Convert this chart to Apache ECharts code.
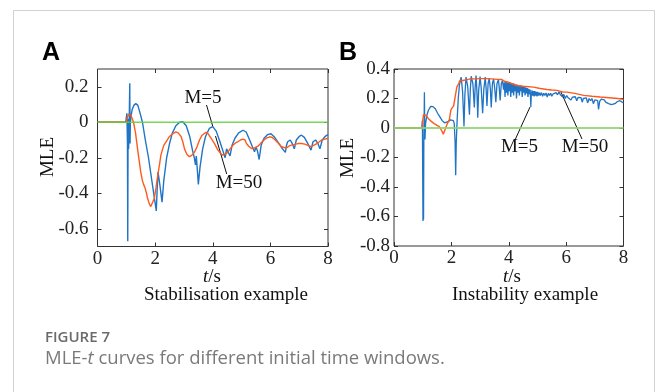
<!DOCTYPE html>
<html><head><meta charset="utf-8">
<script src="https://cdn.jsdelivr.net/npm/echarts@6/dist/echarts.min.js"></script>
<style>html,body{margin:0;padding:0;background:#fff}#c{width:656px;height:392px}</style>
</head><body><div id="c"></div>
<script>
// ---- Panel A (Stabilisation example) ----
const tA_M5 = [0,0.98,1.02,1.04,1.05,1.06,1.07,1.08,1.1,1.12,1.13,1.14,1.16,1.2,1.26,1.33,1.4,1.48,1.56,1.66,1.77,1.86,1.95,2.04,2.07,2.1,2.17,2.24,2.3,2.4,2.5,2.6,2.72,2.85,2.96,3.08,3.2,3.3,3.36,3.4,3.43,3.47,3.5,3.56,3.65,3.75,3.88,4.0,4.12,4.25,4.35,4.43,4.48,4.53,4.6,4.67,4.77,4.9,5.05,5.16,5.28,5.38,5.45,5.5,5.55,5.61,5.68,5.78,5.9,6.02,6.15,6.3,6.42,6.52,6.56,6.6,6.69,6.76,6.83,6.9,7.0,7.08,7.18,7.3,7.41,7.48,7.57,7.65,7.72,7.8,7.9,8.0];
const vA_M5 = [0,0,0.05,-0.12,-0.67,-0.1,0.02,-0.15,0.0,0.22,-0.12,0.0,0.03,0.07,0.095,0.105,0.095,0.05,0.0,-0.1,-0.2,-0.3,-0.4,-0.5,-0.38,-0.28,-0.36,-0.45,-0.33,-0.2,-0.12,-0.06,-0.02,0.0,0.003,-0.02,-0.08,-0.16,-0.2,-0.24,-0.19,-0.28,-0.35,-0.25,-0.15,-0.08,-0.035,-0.025,-0.05,-0.11,-0.16,-0.2,-0.15,-0.16,-0.19,-0.13,-0.09,-0.06,-0.045,-0.055,-0.1,-0.14,-0.166,-0.14,-0.16,-0.21,-0.13,-0.09,-0.07,-0.065,-0.085,-0.12,-0.15,-0.17,-0.13,-0.11,-0.1,-0.12,-0.15,-0.1,-0.08,-0.073,-0.085,-0.12,-0.157,-0.11,-0.1,-0.12,-0.15,-0.1,-0.08,-0.07];
const tA_M50 = [0,1.0,1.04,1.08,1.11,1.16,1.25,1.32,1.39,1.45,1.5,1.56,1.6,1.65,1.7,1.74,1.8,1.85,1.9,1.97,2.03,2.09,2.15,2.2,2.3,2.38,2.5,2.61,2.72,2.8,2.9,2.96,3.02,3.1,3.19,3.28,3.36,3.45,3.54,3.62,3.71,3.8,3.94,4.06,4.18,4.27,4.35,4.43,4.52,4.6,4.7,4.8,4.87,4.96,5.05,5.12,5.17,5.25,5.34,5.45,5.57,5.66,5.74,5.86,5.98,6.06,6.15,6.26,6.38,6.47,6.56,6.64,6.73,6.85,6.96,7.08,7.2,7.3,7.41,7.5,7.61,7.7,7.78,7.9,8.0];
const vA_M50 = [0,0,0.03,0.045,0.052,0.04,0.0,-0.06,-0.15,-0.22,-0.28,-0.33,-0.35,-0.37,-0.4,-0.43,-0.46,-0.475,-0.47,-0.43,-0.37,-0.3,-0.24,-0.185,-0.13,-0.11,-0.08,-0.065,-0.054,-0.06,-0.08,-0.11,-0.15,-0.18,-0.194,-0.185,-0.17,-0.14,-0.1,-0.075,-0.063,-0.055,-0.09,-0.12,-0.157,-0.175,-0.185,-0.18,-0.17,-0.15,-0.13,-0.115,-0.11,-0.1,-0.095,-0.1,-0.12,-0.135,-0.148,-0.145,-0.135,-0.12,-0.106,-0.09,-0.082,-0.085,-0.097,-0.115,-0.138,-0.142,-0.144,-0.135,-0.129,-0.125,-0.12,-0.12,-0.123,-0.13,-0.138,-0.13,-0.12,-0.11,-0.1,-0.095,-0.09];

// ---- Panel B (Instability example) ----
const tB_M5 = [0,0.97,0.99,1.0,1.01,1.02,1.03,1.04,1.05,1.06,1.07,1.08,1.1,1.15,1.2,1.28,1.36,1.44,1.52,1.6,1.68,1.76,1.82,1.9,1.97,2.02,2.07,2.1,2.13,2.15,2.17,2.2,2.24,2.28,2.34,2.39,2.44,2.47,2.51,2.57,2.63,2.66,2.69,2.75,2.8,2.83,2.86,2.89,2.92,2.95,3.0,3.04,3.09,3.13,3.18,3.21,3.24,3.28,3.32,3.36,3.39,3.43,3.47,3.51,3.55,3.59,3.64,3.67,3.7,3.74,3.78,
  3.82,3.845,3.87,3.895,3.92,3.945,3.97,3.995,4.02,4.045,4.07,4.095,4.12,4.145,4.17,4.195,4.22,4.245,4.27,4.295,4.32,4.345,4.37,4.395,4.42,4.445,4.47,4.495,4.52,4.545,4.57,4.595,4.62,4.645,4.67,4.695,4.72,4.745,4.76,4.77,4.785,4.81,4.835,4.86,4.885,4.91,4.935,4.96,4.985,5.01,5.04,5.07,
  5.1,5.14,5.18,5.22,5.26,5.3,5.34,5.38,5.42,5.46,5.5,5.55,5.6,5.65,5.7,5.75,5.8,5.85,5.88,5.92,5.97,6.02,6.07,6.12,6.17,6.22,6.27,6.32,6.37,6.42,6.47,6.52,6.56,6.6,6.65,6.7,6.75,6.8,6.85,6.9,6.95,7.0,7.05,7.1,7.13,7.17,7.22,7.28,7.33,7.38,7.43,7.48,7.53,7.58,7.63,7.7,7.78,7.85,7.92,8.0];
const vB_M5 = [0,0,0.05,-0.3,-0.63,-0.6,-0.62,-0.1,0.05,0.243,0.0,-0.077,0.03,0.09,0.12,0.147,0.145,0.13,0.1,0.075,0.05,0.035,0.03,0.045,0.055,0.06,0.05,0.03,-0.1,-0.32,-0.1,0.05,0.2,0.29,0.345,0.25,0.01,0.22,0.345,0.28,0.09,0.26,0.351,0.3,0.14,0.28,0.356,0.25,0.07,0.25,0.349,0.27,0.1,0.26,0.345,0.27,0.15,0.3,0.338,0.26,0.14,0.3,0.333,0.27,0.175,0.3,0.329,0.27,0.187,0.3,0.322,
  0.26,0.31,0.21,0.315,0.24,0.31,0.22,0.305,0.25,0.31,0.21,0.3,0.24,0.305,0.22,0.3,0.25,0.295,0.2,0.295,0.24,0.29,0.22,0.29,0.25,0.285,0.21,0.285,0.24,0.28,0.22,0.275,0.235,0.27,0.21,0.265,0.23,0.26,0.2,0.142,0.22,0.255,0.22,0.25,0.215,0.25,0.22,0.245,0.215,0.245,0.22,0.24,
  0.22,0.24,0.215,0.235,0.22,0.238,0.21,0.235,0.22,0.236,0.215,0.232,0.225,0.24,0.225,0.245,0.225,0.235,0.21,0.228,0.2,0.22,0.205,0.215,0.19,0.21,0.2,0.212,0.185,0.208,0.195,0.205,0.175,0.2,0.19,0.205,0.17,0.2,0.185,0.2,0.165,0.19,0.18,0.185,0.126,0.18,0.195,0.185,0.19,0.175,0.185,0.165,0.17,0.158,0.16,0.165,0.178,0.185,0.18,0.17];
const tB_M50 = [0,0.98,1.0,1.03,1.07,1.12,1.2,1.3,1.4,1.5,1.58,1.64,1.68,1.72,1.76,1.8,1.86,1.93,1.98,2.02,2.05,2.08,2.13,2.19,2.25,2.3,2.4,2.5,2.65,2.8,3.0,3.2,3.4,3.6,3.75,3.87,4.0,4.28,4.5,4.86,5.1,5.33,5.5,5.68,5.91,6.03,6.3,6.61,6.9,7.19,7.5,7.8,8.0];
const vB_M50 = [0,0,0.05,0.09,0.1,0.085,0.063,0.045,0.03,0.018,0.01,0.0,-0.025,-0.043,-0.03,0.0,0.03,0.057,0.12,0.135,0.13,0.15,0.21,0.277,0.3,0.322,0.322,0.325,0.333,0.333,0.335,0.335,0.333,0.33,0.329,0.315,0.31,0.288,0.283,0.277,0.268,0.261,0.258,0.255,0.243,0.243,0.235,0.221,0.215,0.21,0.205,0.2,0.194];

const zeroT = [0, 8];
const zeroV = [0, 0];
const xTicks = [0, 2, 4, 6, 8];
const yTicksA = [-0.6, -0.4, -0.2, 0, 0.2];
const yTicksB = [-0.8, -0.6, -0.4, -0.2, 0, 0.2, 0.4];

const zip = (t, v) => t.map((x, i) => [x, v[i]]);
const SERIF = 'Liberation Serif';
const labelStyle = { fontFamily: SERIF, fontSize: 19, color: '#222' };
const tickStyle = { show: true, inside: true, length: 4, lineStyle: { color: '#333', width: 1 } };

function xAx(gi, pos, showLabel) {
  return { type: 'value', gridIndex: gi, position: pos, min: 0, max: 8, interval: 2,
    axisLine: { show: false, onZero: false }, splitLine: { show: false },
    axisTick: Object.assign({ customValues: xTicks }, tickStyle),
    axisLabel: showLabel ? Object.assign({ margin: 3, customValues: xTicks }, labelStyle) : { show: false } };
}
function yAx(gi, pos, showLabel, min, max, ticks, margin) {
  return { type: 'value', gridIndex: gi, position: pos, min: min, max: max, interval: 0.1,
    axisLine: { show: false, onZero: false }, splitLine: { show: false },
    axisTick: Object.assign({ customValues: ticks }, tickStyle),
    axisLabel: showLabel ? Object.assign({ margin: margin, customValues: ticks }, labelStyle) : { show: false } };
}
const BLUE = '#1f74c6', ORANGE = '#ff5a1e';
function line(xi, yi, data, color, w, z, op) {
  return { type: 'line', xAxisIndex: xi, yAxisIndex: yi, data: data, showSymbol: false, symbol: 'none',
    lineStyle: { color: color, width: w, opacity: op || 1 }, z: z, animation: false };
}

const chart = echarts.init(document.getElementById('c'), null, { renderer: 'canvas' });
const txt = (x, y, text, extra) => ({ type: 'text', x: x, y: y, silent: true,
  style: Object.assign({ text: text, font: '19px "Liberation Serif"', fill: '#111', align: 'center', verticalAlign: 'middle' }, extra || {}) });
const seg = (x1, y1, x2, y2) => ({ type: 'line', silent: true, shape: { x1, y1, x2, y2 }, style: { stroke: '#111', lineWidth: 1 } });

chart.setOption({
  animation: false,
  grid: [
    { left: 97.5, top: 69, width: 230.5, height: 177.5, show: true, borderColor: '#333', borderWidth: 1, backgroundColor: 'transparent' },
    { left: 394, top: 69, width: 229.5, height: 177, show: true, borderColor: '#333', borderWidth: 1, backgroundColor: 'transparent' }
  ],
  xAxis: [ xAx(0, 'bottom', true), xAx(0, 'top', false), xAx(1, 'bottom', true), xAx(1, 'top', false) ],
  yAxis: [
    yAx(0, 'left', true, -0.7, 0.3, yTicksA, 9), yAx(0, 'right', false, -0.7, 0.3, yTicksA, 0),
    yAx(1, 'left', true, -0.8, 0.4, yTicksB, 4), yAx(1, 'right', false, -0.8, 0.4, yTicksB, 0)
  ],
  series: [
    line(0, 0, zip(tA_M5, vA_M5), BLUE, 1.4, 3),
    line(0, 0, zip(tA_M50, vA_M50), ORANGE, 1.4, 4),
    line(0, 0, zip(zeroT, zeroV), '#62d13a', 1.3, 5, 0.85),
    line(2, 2, zip(tB_M5, vB_M5), BLUE, 1.3, 3),
    line(2, 2, zip(tB_M50, vB_M50), ORANGE, 1.4, 4),
    line(2, 2, zip(zeroT, zeroV), '#8bd66a', 2, 5, 0.85)
  ],
  graphic: [
    { type: 'rect', silent: true, shape: { x: 13.5, y: 10.5, width: 641, height: 400 }, style: { fill: 'none', stroke: '#d2d2d2', lineWidth: 1 } },
    txt(51, 53, 'A', { font: 'bold 25px "Liberation Sans"', fill: '#000' }),
    txt(348, 53, 'B', { font: 'bold 25px "Liberation Sans"', fill: '#000' }),
    Object.assign(txt(48, 157, 'MLE'), { rotation: Math.PI / 2 }),
    Object.assign(txt(348, 158, 'MLE'), { rotation: Math.PI / 2 }),
    { type: 'text', x: 212, y: 277, silent: true, style: { text: '{i|t}/s', font: '19px "Liberation Serif"', fill: '#111', align: 'center', verticalAlign: 'middle',
      rich: { i: { fontStyle: 'italic', fontFamily: SERIF, fontSize: 19 } } } },
    { type: 'text', x: 512, y: 277, silent: true, style: { text: '{i|t}/s', font: '19px "Liberation Serif"', fill: '#111', align: 'center', verticalAlign: 'middle',
      rich: { i: { fontStyle: 'italic', fontFamily: SERIF, fontSize: 19 } } } },
    txt(226, 295, 'Stabilisation example'),
    txt(525, 295, 'Instability example'),
    txt(203, 98.5, 'M=5'),
    txt(239, 183.5, 'M=50'),
    seg(206.5, 105, 212.8, 126.5),
    seg(215.5, 136, 226.7, 174),
    txt(519.5, 147.5, 'M=5'),
    txt(585, 147.5, 'M=50'),
    seg(515, 140, 530, 107),
    seg(582, 139, 560.5, 91),
    { type: 'text', x: 45, y: 338, silent: true, style: { text: 'FIGURE 7', font: '600 15px "Open Sans"', fill: '#6a6a6a', align: 'left', verticalAlign: 'middle' } },
    { type: 'text', x: 45, y: 359, silent: true, style: { text: 'MLE-{i|t} curves for different initial time windows.', font: '18.5px "Open Sans"', fill: '#7a7a7a', align: 'left', verticalAlign: 'middle',
      rich: { i: { fontStyle: 'italic', fontFamily: 'Open Sans', fontSize: 18.5, color: '#7a7a7a' } } } }
  ]
});
</script></body></html>
